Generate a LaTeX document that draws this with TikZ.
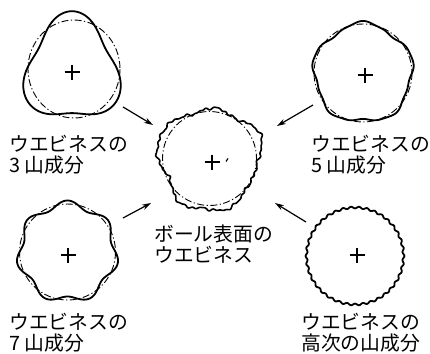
\documentclass[tikz,border=0pt]{standalone}
\usepackage{fontspec}
\newfontfamily\jpfont{Noto Sans CJK JP}
\usetikzlibrary{arrows.meta,calc}

\tikzset{
  profile/.style={line width=1.8pt, line join=round, black},
  refcircle/.style={line width=0.9pt, dash pattern=on 7pt off 2.5pt on 1.2pt off 2.5pt},
  centermark/.style={line width=1.2pt},
  flow/.style={line width=1.2pt, -{Stealth[length=9pt,width=5.5pt]}},
  % multi-line captions: the base anchor sits on the last line
  caption/.style={font=\jpfont\fontsize{19.8}{21}\selectfont, anchor=base west,
                  inner sep=0pt, align=left},
}
% a "+" centre mark of half-size 7.5pt
\newcommand{\crossmark}[1]{%
  \draw[centermark] ($(#1)+(-7.5,0)$) -- ($(#1)+(7.5,0)$);
  \draw[centermark] ($(#1)+(0,-7.5)$) -- ($(#1)+(0,7.5)$);}

\begin{document}
\begin{tikzpicture}[x=1pt,y=-1pt]
\useasboundingbox (0,0) rectangle (430,353);

% ---- centres of the five profiles ----
\coordinate (c3) at (72,70);
\coordinate (c5) at (363,73);
\coordinate (cb) at (209.5,158.5);
\coordinate (c7) at (67.5,252);
\coordinate (ch) at (355,256);

% ---- 3-lobe component ----
\draw[refcircle] (74,69) ellipse [x radius=46, y radius=49];
\draw[profile] plot[domain=-180:180, samples=181, smooth cycle, variable=\t]
  ({72+(45.5-7*sin(3*\t))*cos(\t)}, {70-1.12*(45.5-7*sin(3*\t))*sin(\t)});
\crossmark{72,72}

% ---- 5-lobe component ----
\draw[refcircle] (c5) circle [radius=49];
\draw[profile] plot[domain=-180:180, samples=181, smooth cycle, variable=\t]
  ({363+(49+2.5*cos(5*(\t-90))+0.6*sin(13*\t))*cos(\t)},
   {73-(49+2.5*cos(5*(\t-90))+0.6*sin(13*\t))*sin(\t)});
\crossmark{365,75}

% ---- measured ball surface ----
\draw[refcircle] (cb) circle [radius=47];
\draw[profile, line width=1.6pt] plot[domain=-180:180, samples=361, smooth cycle, variable=\t]
  ({209.5+(50.5+3*cos(3*(\t-270))+2*cos(5*(\t-90))+1.5*cos(7*(\t-30))
      +0.7*sin(19*\t)+0.6*sin(31*\t+40)+0.5*sin(47*\t+10))*cos(\t)},
   {158.5-(50.5+3*cos(3*(\t-270))+2*cos(5*(\t-90))+1.5*cos(7*(\t-30))
      +0.7*sin(19*\t)+0.6*sin(31*\t+40)+0.5*sin(47*\t+10))*sin(\t)});
\crossmark{212,162}
\draw[line width=1.2pt] (226,161.5) -- (228,158.5);

% ---- 7-lobe component ----
\draw[refcircle] (c7) circle [radius=48];
\draw[profile] plot[domain=-180:180, samples=181, smooth cycle, variable=\t]
  ({67.5+(48+3.5*cos(7*(\t-90)))*cos(\t)}, {252-(48+3.5*cos(7*(\t-90)))*sin(\t)});
\crossmark{68,255}

% ---- higher-order component ----
\draw[profile] plot[domain=-180:180, samples=361, smooth cycle, variable=\t]
  ({355+(48.5+0.9*cos(38*\t))*cos(\t)}, {256-(48.5+0.9*cos(38*\t))*sin(\t)});
\crossmark{357,255}

% ---- arrows towards the measured surface ----
\coordinate (a3s) at (123,107);  \coordinate (a3e) at (153,125);
\coordinate (a5s) at (313,105);  \coordinate (a5e) at (277,126);
\coordinate (a7s) at (123,218);  \coordinate (a7e) at (151,203);
\coordinate (ahs) at (306,222);  \coordinate (ahe) at (275,203);
\draw[flow] (a3s) -- (a3e);
\draw[flow] (a5s) -- (a5e);
\draw[flow] (a7s) -- (a7e);
\draw[flow] (ahs) -- (ahe);

% ---- captions ----
\node[caption] (t3) at (9,172) {ウエビネスの\\3 山成分};
\node[caption] (t5) at (311,172) {ウエビネスの\\5 山成分};
\node[caption] (tb) at (154,262) {ボール表面の\\ウエビネス};
\node[caption] (t7) at (9,350) {ウエビネスの\\7 山成分};
\node[caption] (th) at (301,350) {ウエビネスの\\高次の山成分};
\end{tikzpicture}
\end{document}
